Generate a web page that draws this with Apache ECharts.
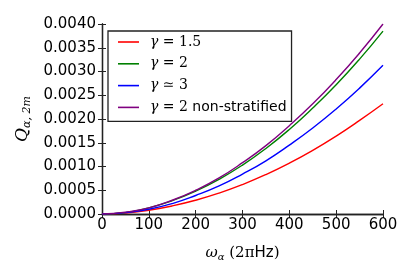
<!DOCTYPE html>
<html><head><meta charset="utf-8">
<script src="https://cdn.jsdelivr.net/npm/echarts@6/dist/echarts.min.js"></script>
<style>html,body{margin:0;padding:0;background:#fff}#c{width:415px;height:277px}</style>
</head><body><div id="c"></div>
<script>
const omega = [0, 50, 100, 150, 200, 250, 300, 350, 400, 450, 500, 550, 600];
const qGamma15 = [0, 0.00002, 0.00008, 0.00017, 0.00029, 0.00044, 0.00062, 0.00083, 0.00107, 0.00134, 0.00164, 0.00197, 0.00232];
const qGamma2 = [0, 0.00003, 0.00013, 0.00028, 0.00048, 0.00073, 0.00103, 0.00138, 0.00178, 0.00223, 0.00272, 0.00326, 0.00385];
const qGamma3 = [0, 0.00003, 0.00010, 0.00022, 0.00039, 0.00059, 0.00084, 0.00112, 0.00145, 0.00181, 0.00221, 0.00265, 0.00313];
const qGamma2NS = [0, 0.00004, 0.00013, 0.00029, 0.00050, 0.00076, 0.00108, 0.00144, 0.00186, 0.00232, 0.00283, 0.00339, 0.00400];
const xTicks = [0, 100, 200, 300, 400, 500, 600];
const yTicks = ['0.0000','0.0005','0.0010','0.0015','0.0020','0.0025','0.0030','0.0035','0.0040'];

const names = ['g15', 'g2', 'g3', 'g2ns'];
const legendText = {
  g15: '{g|γ}{m| = 1.5}',
  g2: '{g|γ}{m| = 2}',
  g3: '{g|γ}{m| ≃ 3}',
  g2ns: '{g|γ}{m| = 2}{s| non-stratified}'
};
const colors = ['#ff0000', '#008000', '#0000ff', '#800080'];
const data = [qGamma15, qGamma2, qGamma3, qGamma2NS];

const chart = echarts.init(document.getElementById('c'), null, {renderer: 'canvas'});
const axisLine = {show: true, lineStyle: {color: '#222', width: 1.3}};
const tick = {show: true, inside: true, length: 4, lineStyle: {color: '#222', width: 1}};
const lab = {fontFamily: 'DejaVu Sans', fontSize: 15, color: '#000'};

chart.setOption({
  animation: false,
  grid: {left: 102, right: 32, top: 24, bottom: 63},
  legend: {
    data: names,
    orient: 'vertical',
    left: 108, top: 31,
    padding: [4, 5, 7, 10],
    itemGap: 7.8,
    itemWidth: 21, itemHeight: 1.6,
    icon: 'rect',
    borderColor: '#222', borderWidth: 1.3,
    backgroundColor: '#fff',
    formatter: n => legendText[n],
    textStyle: {
      padding: [0, 0, 0, 6],
      rich: {
        g: {fontFamily: 'DejaVu Serif', fontStyle: 'italic', fontSize: 14, color: '#000', lineHeight: 14},
        m: {fontFamily: 'DejaVu Serif', fontSize: 14, color: '#000', lineHeight: 14},
        s: {fontFamily: 'DejaVu Sans', fontSize: 14, color: '#000', lineHeight: 14}
      }
    }
  },
  xAxis: [{
    type: 'value', min: 0, max: 600, interval: 100,
    axisLine, axisTick: tick, splitLine: {show: false},
    axisLabel: Object.assign({margin: 4}, lab),
    name: '{w|ω}{a|α}{p| (2π}{h|Hz}{p|)}',
    nameLocation: 'middle', nameGap: 30,
    nameTextStyle: {rich: {
      w: {fontFamily: 'DejaVu Serif', fontStyle: 'italic', fontSize: 15, color: '#000'},
      a: {fontFamily: 'DejaVu Serif', fontStyle: 'italic', fontSize: 10, color: '#000', padding: [8, 0, 0, 0]},
      p: {fontFamily: 'DejaVu Serif', fontSize: 15, color: '#000'},
      h: {fontFamily: 'DejaVu Sans', fontSize: 15, color: '#000'}
    }}
  }, {
    type: 'value', min: 0, max: 600, interval: 100, position: 'top',
    axisLine, axisTick: tick, axisLabel: {show: false}, splitLine: {show: false}
  }],
  yAxis: [{
    type: 'value', min: 0, max: 0.004, interval: 0.0005,
    axisLine, axisTick: tick, splitLine: {show: false},
    axisLabel: Object.assign({margin: 6, formatter: (v) => yTicks[Math.round(v / 0.0005)]}, lab),
    name: '{q|Q}{s|α, 2m}',
    nameLocation: 'middle', nameGap: 66, nameRotate: 90,
    nameTextStyle: {rich: {
      q: {fontFamily: 'DejaVu Serif', fontStyle: 'italic', fontSize: 17, color: '#000'},
      s: {fontFamily: 'DejaVu Serif', fontStyle: 'italic', fontSize: 11, color: '#000', padding: [9, 0, 0, 0]}
    }}
  }, {
    type: 'value', min: 0, max: 0.004, interval: 0.0005, position: 'right',
    axisLine, axisTick: tick, axisLabel: {show: false}, splitLine: {show: false}
  }],
  series: names.map((n, i) => ({
    name: n, type: 'line', smooth: 0.5, showSymbol: false,
    data: omega.map((x, j) => [x, data[i][j]]),
    color: colors[i],
    lineStyle: {width: 1.4, color: colors[i]},
    z: 2 + i
  }))
});
</script></body></html>
